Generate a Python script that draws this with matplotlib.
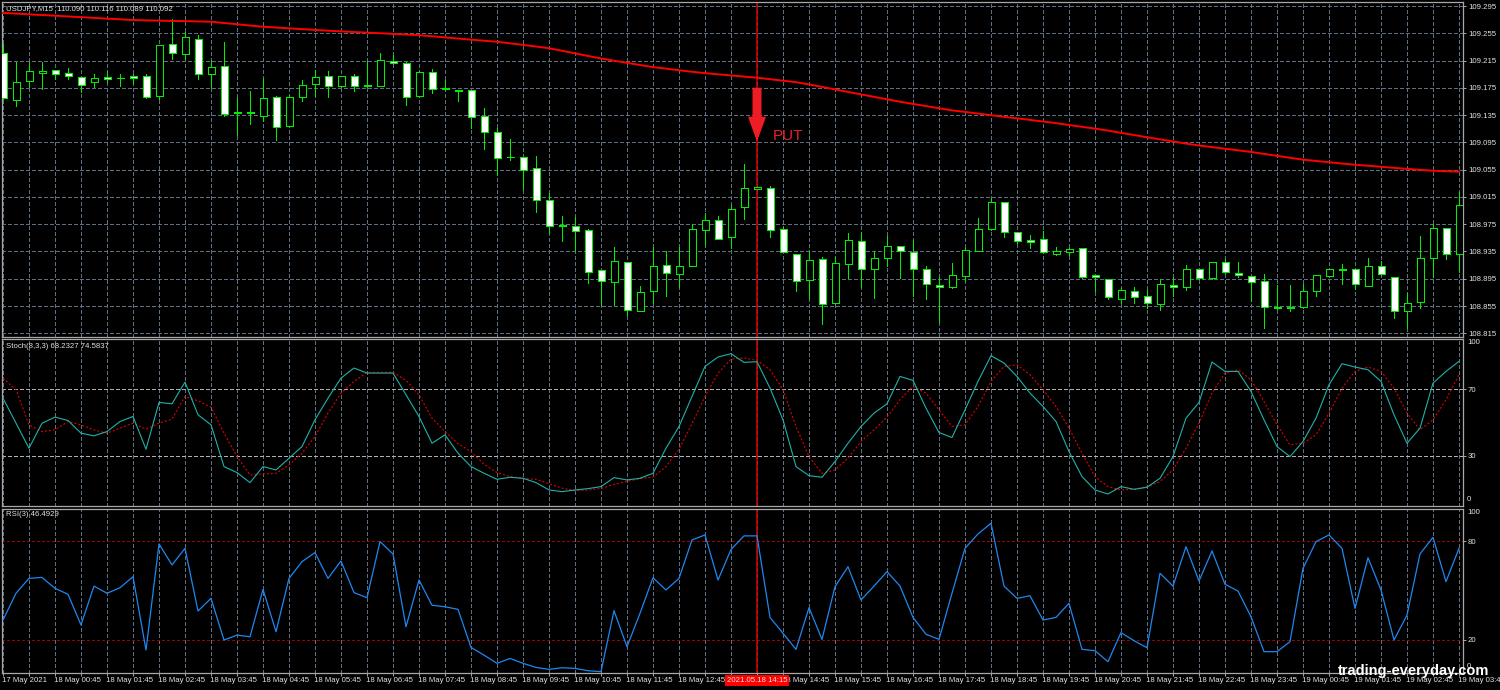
import matplotlib
matplotlib.use('Agg')
import matplotlib.pyplot as plt
import matplotlib.transforms as mtransforms
from matplotlib.patches import Polygon

plt.rcParams['lines.scale_dashes'] = False
plt.rcParams['font.family'] = ['Liberation Sans', 'DejaVu Sans']

# ---------------- data ----------------
opens = [109.226, 109.157, 109.185, 109.197, 109.201, 109.197, 109.191, 109.183, 109.191, 109.189,
         109.192, 109.192, 109.163, 109.240, 109.224, 109.247, 109.196, 109.207, 109.138, 109.138,
         109.134, 109.162, 109.119, 109.162, 109.180, 109.192, 109.177, 109.193, 109.179, 109.178,
         109.215, 109.211, 109.163, 109.198, 109.175, 109.172, 109.172, 109.133, 109.110, 109.074,
         109.073, 109.057, 109.010, 108.974, 108.972, 108.966, 108.908, 108.890, 108.920, 108.848,
         108.877, 108.915, 108.902, 108.914, 108.967, 108.981, 108.956, 109.000, 109.027, 109.028,
         108.968, 108.932, 108.893, 108.924, 108.859, 108.916, 108.950, 108.909, 108.926, 108.943,
         108.934, 108.909, 108.886, 108.883, 108.899, 108.936, 108.968, 109.007, 108.963, 108.952,
         108.953, 108.932, 108.934, 108.940, 108.900, 108.895, 108.866, 108.877, 108.869, 108.858,
         108.886, 108.883, 108.909, 108.896, 108.920, 108.904, 108.899, 108.891, 108.853, 108.854,
         108.853, 108.877, 108.899, 108.910, 108.909, 108.885, 108.914, 108.898, 108.848, 108.861,
         108.925, 108.970, 108.932]
highs = [109.240, 109.213, 109.213, 109.213, 109.201, 109.204, 109.191, 109.195, 109.200, 109.196,
         109.195, 109.195, 109.238, 109.276, 109.257, 109.253, 109.216, 109.242, 109.160, 109.171,
         109.189, 109.163, 109.164, 109.186, 109.201, 109.199, 109.193, 109.196, 109.214, 109.226,
         109.223, 109.213, 109.199, 109.203, 109.186, 109.172, 109.172, 109.146, 109.116, 109.100,
         109.074, 109.075, 109.021, 108.987, 108.986, 108.968, 108.908, 108.941, 108.920, 108.884,
         108.942, 108.935, 108.942, 108.976, 108.991, 108.987, 109.003, 109.063, 109.029, 109.031,
         108.971, 108.932, 108.935, 108.927, 108.927, 108.962, 108.964, 108.935, 108.957, 108.943,
         108.952, 108.914, 108.898, 108.918, 108.940, 108.984, 109.014, 109.008, 108.963, 108.959,
         108.965, 108.942, 108.940, 108.940, 108.900, 108.895, 108.881, 108.883, 108.878, 108.894,
         108.897, 108.915, 108.910, 108.920, 108.924, 108.920, 108.899, 108.902, 108.886, 108.886,
         108.887, 108.900, 108.910, 108.916, 108.909, 108.926, 108.921, 108.898, 108.874, 108.958,
         108.975, 108.970, 109.022]
lows = [109.158, 109.148, 109.176, 109.174, 109.188, 109.188, 109.169, 109.176, 109.184, 109.177,
        109.182, 109.160, 109.158, 109.218, 109.218, 109.188, 109.176, 109.133, 109.106, 109.122,
        109.127, 109.098, 109.118, 109.155, 109.163, 109.162, 109.176, 109.171, 109.176, 109.177,
        109.210, 109.150, 109.162, 109.167, 109.172, 109.155, 109.116, 109.085, 109.047, 109.069,
        109.026, 108.993, 108.962, 108.950, 108.936, 108.889, 108.857, 108.857, 108.842, 108.847,
        108.860, 108.870, 108.883, 108.913, 108.944, 108.953, 108.940, 108.982, 109.027, 108.956,
        108.934, 108.877, 108.867, 108.829, 108.858, 108.896, 108.883, 108.867, 108.913, 108.896,
        108.869, 108.865, 108.832, 108.882, 108.891, 108.936, 108.967, 108.956, 108.948, 108.940,
        108.933, 108.930, 108.930, 108.896, 108.877, 108.865, 108.859, 108.859, 108.852, 108.849,
        108.870, 108.879, 108.895, 108.895, 108.903, 108.898, 108.862, 108.823, 108.851, 108.847,
        108.852, 108.870, 108.898, 108.887, 108.880, 108.885, 108.901, 108.838, 108.823, 108.852,
        108.898, 108.924, 108.905]
closes = [109.160, 109.184, 109.199, 109.200, 109.195, 109.192, 109.179, 109.190, 109.188, 109.189,
          109.190, 109.162, 109.238, 109.226, 109.249, 109.195, 109.206, 109.137, 109.140, 109.140,
          109.160, 109.118, 109.161, 109.179, 109.191, 109.178, 109.192, 109.178, 109.177, 109.216,
          109.211, 109.162, 109.198, 109.174, 109.173, 109.171, 109.132, 109.110, 109.072, 109.073,
          109.055, 109.010, 108.973, 108.973, 108.965, 108.905, 108.892, 108.921, 108.849, 108.875,
          108.914, 108.903, 108.914, 108.968, 108.981, 108.954, 108.998, 109.028, 109.029, 108.967,
          108.934, 108.892, 108.923, 108.858, 108.918, 108.952, 108.910, 108.926, 108.943, 108.935,
          108.909, 108.887, 108.883, 108.900, 108.937, 108.968, 109.007, 108.963, 108.951, 108.949,
          108.934, 108.935, 108.938, 108.898, 108.897, 108.868, 108.878, 108.868, 108.860, 108.887,
          108.883, 108.909, 108.896, 108.919, 108.905, 108.901, 108.890, 108.853, 108.852, 108.852,
          108.877, 108.900, 108.910, 108.908, 108.887, 108.914, 108.902, 108.847, 108.860, 108.926,
          108.969, 108.931, 109.003]
ma_values = [109.2849, 109.2839, 109.2828, 109.2818, 109.2808, 109.2797, 109.2787, 109.2776, 109.2765, 109.2755,
             109.2745, 109.2740, 109.2736, 109.2731, 109.2729, 109.2724, 109.2720, 109.2701, 109.2683, 109.2664,
             109.2646, 109.2635, 109.2623, 109.2611, 109.2600, 109.2588, 109.2578, 109.2569, 109.2560, 109.2551,
             109.2541, 109.2532, 109.2522, 109.2506, 109.2490, 109.2473, 109.2457, 109.2441, 109.2426, 109.2403,
             109.2380, 109.2356, 109.2331, 109.2294, 109.2256, 109.2218, 109.2180, 109.2148, 109.2117, 109.2085,
             109.2054, 109.2032, 109.2008, 109.1986, 109.1966, 109.1948, 109.1932, 109.1915, 109.1899, 109.1877,
             109.1855, 109.1833, 109.1800, 109.1764, 109.1727, 109.1690, 109.1654, 109.1618, 109.1582, 109.1547,
             109.1514, 109.1483, 109.1451, 109.1420, 109.1397, 109.1373, 109.1349, 109.1325, 109.1303, 109.1280,
             109.1256, 109.1233, 109.1205, 109.1178, 109.1152, 109.1123, 109.1090, 109.1058, 109.1026, 109.0995,
             109.0964, 109.0933, 109.0904, 109.0881, 109.0857, 109.0834, 109.0810, 109.0781, 109.0753, 109.0724,
             109.0697, 109.0678, 109.0659, 109.0640, 109.0622, 109.0608, 109.0592, 109.0577, 109.0562, 109.0548,
             109.0534, 109.0527, 109.0521]
stoch_main = [64.6, 49.6, 34.6, 49.6, 53.2, 51.2, 43.6, 42.0, 44.6, 50.6,
              53.6, 34.0, 62.0, 61.2, 74.2, 54.6, 48.6, 23.6, 20.0, 14.0,
              23.6, 21.6, 28.6, 35.6, 51.6, 64.6, 76.6, 82.6, 79.6, 79.6,
              79.6, 66.6, 53.6, 37.6, 42.6, 31.6, 23.6, 19.6, 16.0, 17.2,
              16.6, 14.0, 9.6, 8.6, 9.6, 10.4, 11.6, 17.0, 15.6, 16.6,
              19.6, 34.6, 47.6, 65.6, 83.6, 89.2, 91.2, 86.0, 86.4, 70.6,
              51.6, 23.6, 18.2, 17.2, 26.6, 37.6, 47.6, 55.6, 61.2, 77.6,
              75.2, 58.6, 44.0, 41.0, 57.6, 74.6, 90.0, 85.6, 77.6, 67.6,
              59.6, 50.6, 32.6, 17.6, 9.6, 7.2, 11.6, 10.0, 11.2, 16.6,
              29.6, 52.6, 62.0, 86.2, 80.6, 80.6, 68.6, 51.6, 35.6, 29.6,
              38.6, 52.6, 72.6, 85.2, 83.2, 81.6, 74.6, 54.6, 37.6, 46.6,
              73.6, 80.6, 86.6]
stoch_signal = [76.6, 69.6, 48.6, 44.6, 45.6, 50.6, 48.6, 45.6, 43.6, 46.6,
                49.6, 46.0, 49.6, 52.0, 65.6, 63.0, 59.2, 43.6, 29.6, 18.6,
                19.2, 19.6, 24.6, 31.6, 41.6, 55.6, 67.6, 74.6, 80.0, 80.0,
                80.0, 75.3, 66.6, 52.6, 44.6, 37.3, 32.6, 25.0, 20.0, 17.6,
                16.6, 15.9, 13.4, 10.7, 9.3, 9.5, 10.5, 13.0, 14.7, 16.4,
                17.3, 23.6, 34.0, 49.3, 65.6, 79.5, 88.0, 88.6, 87.2, 81.6,
                69.6, 47.6, 29.6, 19.6, 21.6, 28.6, 38.6, 45.6, 53.2, 63.6,
                71.6, 67.6, 57.6, 47.6, 48.6, 59.6, 74.6, 83.6, 84.6, 78.6,
                69.6, 59.6, 46.6, 31.6, 17.6, 11.6, 9.6, 10.0, 11.6, 14.6,
                21.6, 34.6, 49.6, 67.6, 79.6, 81.6, 75.6, 62.6, 48.6, 36.6,
                37.6, 42.6, 55.6, 70.6, 80.6, 83.2, 80.6, 70.6, 55.6, 45.6,
                51.6, 63.6, 78.6]
rsi_values = [32.0, 48.3, 57.4, 58.0, 51.3, 47.7, 29.0, 52.7, 48.3, 51.7,
              58.4, 13.7, 78.4, 65.6, 75.7, 37.5, 45.2, 19.8, 22.8, 21.8,
              50.7, 24.9, 57.4, 67.6, 73.1, 57.4, 68.0, 48.7, 45.6, 79.8,
              72.3, 27.9, 56.4, 41.0, 40.1, 38.5, 15.3, 10.6, 5.6, 8.6,
              5.6, 3.1, 1.9, 2.9, 2.5, 1.1, 0.5, 37.7, 15.7, 36.1,
              57.8, 50.3, 57.4, 80.8, 83.9, 56.4, 75.0, 83.3, 83.3, 33.6,
              23.9, 14.1, 39.5, 20.2, 52.3, 64.5, 44.2, 52.7, 61.5, 52.7,
              33.6, 23.3, 20.2, 48.3, 75.7, 84.5, 91.0, 52.7, 45.2, 46.8,
              32.0, 33.6, 42.2, 14.1, 13.3, 6.6, 24.3, 19.4, 15.1, 60.5,
              52.7, 76.7, 55.8, 74.1, 53.8, 49.7, 34.0, 12.7, 12.7, 18.8,
              63.5, 79.8, 83.9, 75.7, 39.1, 70.0, 50.3, 19.8, 35.0, 72.3,
              82.4, 55.4, 75.7]
price_ticks = [109.295, 109.255, 109.215, 109.175, 109.135, 109.095, 109.055,
               109.015, 108.975, 108.935, 108.895, 108.855, 108.815]
time_tick_bars = [0, 4, 8, 12, 16, 20, 24, 28, 32, 36, 40, 44, 48, 52, 56, 60, 64,
                  68, 72, 76, 80, 84, 88, 92, 96, 100, 104, 108, 112]
time_tick_labels = ['17 May 2021', '18 May 00:45', '18 May 01:45', '18 May 02:45', '18 May 03:45',
                    '18 May 04:45', '18 May 05:45', '18 May 06:45', '18 May 07:45', '18 May 08:45',
                    '18 May 09:45', '18 May 10:45', '18 May 11:45', '18 May 12:45', '18 May 13:45',
                    '18 May 14:45', '18 May 15:45', '18 May 16:45', '18 May 17:45', '18 May 18:45',
                    '18 May 19:45', '18 May 20:45', '18 May 21:45', '18 May 22:45', '18 May 23:45',
                    '19 May 00:45', '19 May 01:45', '19 May 02:45', '19 May 03:45']
stoch_levels = [70, 30]
rsi_levels = [80, 20]
signal_bar = 58
signal_price = 109.096
signal_time = '2021.05.18 14:15'
signal_text = 'PUT'
title_main = 'USDJPY,M15  110.090 110.116 110.089 110.092'
title_stoch = 'Stoch(8,3,3) 68.2327 74.5837'
title_rsi = 'RSI(3) 46.4929'
watermark = 'trading-everyday.com'

# ---------------- layout ----------------
W, H = 1500, 690
fig = plt.figure(figsize=(W / 100, H / 100), dpi=100, facecolor='black')

GREEN = '#00ee00'
GRIDC = '#5f6f82'
TXT = '#e2e2e2'
FS = 5.6
LW1 = 0.7          # ~1 pixel
DASH = (0, (2.2, 1.45))
DOT = (0, (1.45, 1.45))
BAR_PX = 13.0
XLIM = ((2 - 3) / BAR_PX, (1463 - 3) / BAR_PX)
bars = list(range(len(opens)))


def add_px_axes(x0, y0, x1, y1):
    ax = fig.add_axes([x0 / W, 1 - y1 / H, (x1 - x0) / W, (y1 - y0) / H])
    ax.set_facecolor('black')
    for s in ax.spines.values():
        s.set_color('#a8a8a8')
        s.set_linewidth(0.9)
    ax.set_xlim(*XLIM)
    ax.set_xticks(bars[::2])
    ax.tick_params(axis='x', length=0, labelbottom=False)
    ax.yaxis.tick_right()
    ax.tick_params(axis='y', length=2.4, width=LW1, color='#a8a8a8',
                   labelsize=FS, labelcolor=TXT, pad=1.2)
    ax.set_axisbelow(True)
    return ax


def ftext(x, y, s, **kw):
    return fig.text(x / W, 1 - y / H, s, **kw)


# ---- main price panel ----
ax1 = add_px_axes(2, 2, 1463, 337)
ax1.set_ylim(108.8096, 109.3009)
ax1.set_yticks(price_ticks)
ax1.set_yticklabels([f'{p:.3f}' for p in price_ticks])
ax1.grid(True, color=GRIDC, linewidth=LW1, linestyle=DASH, antialiased=False)

ax1.vlines(bars, lows, highs, colors=GREEN, linewidth=LW1, antialiased=False, zorder=2)
bottoms = [min(o, c) for o, c in zip(opens, closes)]
heights = [abs(c - o) for o, c in zip(opens, closes)]
faces = ['white' if c < o else 'black' for o, c in zip(opens, closes)]
ax1.bar(bars, heights, bottom=bottoms, width=7 / BAR_PX, color=faces,
        edgecolor=GREEN, linewidth=LW1, antialiased=False, zorder=3)
ax1.plot(bars, ma_values, color='#ff0000', linewidth=1.4, zorder=4)

# ---- stochastic panel ----
ax2 = add_px_axes(2, 339, 1463, 506)
ax2.set_ylim(0, 100)
ax2.set_yticks(stoch_levels)
ax2.set_yticklabels([str(v) for v in stoch_levels])
ax2.grid(True, axis='x', color=GRIDC, linewidth=LW1, linestyle=DASH, antialiased=False)
for lv in stoch_levels:
    ax2.axhline(lv, color='#b0b0b0', linewidth=LW1, linestyle=DASH, antialiased=False, zorder=1)
ax2.plot(bars, stoch_main, color='#20b2aa', linewidth=0.8, zorder=4)
ax2.plot(bars, stoch_signal, color='#e00000', linewidth=0.8, linestyle=DOT, zorder=3)

# ---- RSI panel ----
ax3 = add_px_axes(2, 508.5, 1463, 672.5)
ax3.set_ylim(0, 100)
ax3.set_yticks(rsi_levels)
ax3.set_yticklabels([str(v) for v in rsi_levels])
ax3.grid(True, axis='x', color=GRIDC, linewidth=LW1, linestyle=DASH, antialiased=False)
for lv in rsi_levels:
    ax3.axhline(lv, color='#9a0000', linewidth=LW1, linestyle=DOT, antialiased=False, zorder=1)
ax3.plot(bars, rsi_values, color='#1e88f0', linewidth=0.9, zorder=4)
ax3.tick_params(axis='x', length=2.2, width=LW1, color='#a8a8a8', direction='out')

# top / bottom scale labels of the sub windows
for ax in (ax2, ax3):
    tr = mtransforms.blended_transform_factory(ax.transAxes, ax.transData)
    ax.text(1.0 + 4 / 1461, 100, '100', transform=tr, ha='left', va='top',
            fontsize=FS, color=TXT, clip_on=False)
    ax.text(1.0 + 4 / 1461, 1.5, '0', transform=tr, ha='left', va='bottom',
            fontsize=FS, color=TXT, clip_on=False)

# vertical signal line through all panels
for ax in (ax1, ax2, ax3):
    ax.axvline(signal_bar, color='#d40000', linewidth=1.1, antialiased=True, zorder=2.5)

# panel titles
ftext(6, 8.5, title_main, fontsize=FS, color=TXT, ha='left', va='center')
ftext(6, 346.5, title_stoch, fontsize=FS, color=TXT, ha='left', va='center')
ftext(6, 514.5, title_rsi, fontsize=FS, color=TXT, ha='left', va='center')

# time axis labels
trx = mtransforms.blended_transform_factory(ax3.transData, fig.transFigure)
for b, lab in zip(time_tick_bars, time_tick_labels):
    ax3.text(b - 0.08, 1 - 680 / H, lab, transform=trx, ha='left', va='center',
             fontsize=FS, color=TXT, clip_on=False, zorder=5)
ax3.text(signal_bar, 1 - 680.5 / H, signal_time, transform=trx, ha='center', va='center',
         fontsize=FS, color='#ffe0e0', clip_on=False, zorder=20,
         bbox=dict(boxstyle='square,pad=0.28', fc='#ff0000', ec='none'))

# PUT arrow (shape in pixels, anchored at the signal bar / price)
fig.canvas.draw()
xd, yd = ax1.transData.transform((signal_bar, signal_price))
verts = [(xd, yd), (xd - 9, yd + 25), (xd - 4.5, yd + 25), (xd - 4.5, yd + 54),
         (xd + 4.5, yd + 54), (xd + 4.5, yd + 25), (xd + 9, yd + 25)]
arrow = Polygon(verts, closed=True, facecolor='#ee1c24', edgecolor='none',
                transform=mtransforms.IdentityTransform(), zorder=6)
ax1.add_patch(arrow)
ax1.annotate(signal_text, xy=(signal_bar, signal_price), xytext=(16, 6),
             textcoords='offset pixels', color='#e8202a', fontsize=11,
             ha='left', va='center', zorder=7)

# watermark
ftext(1338, 671.5, watermark, fontsize=10.5, fontweight='bold', color='white',
      ha='left', va='center', zorder=30)

fig.savefig('out.png', dpi=100, facecolor='black')
